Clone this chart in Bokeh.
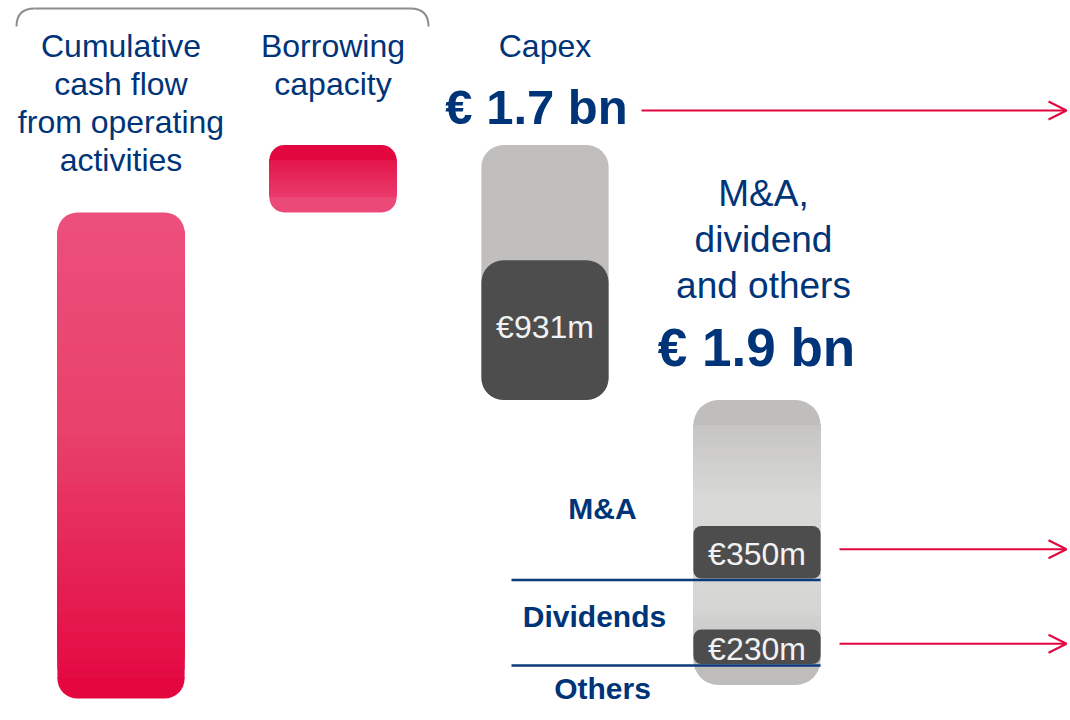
from bokeh.plotting import figure
from bokeh.models import Range1d, Arrow, OpenHead, ColumnDataSource
from bokeh.core.properties import value
from bokeh.embed import file_html
from bokeh.resources import INLINE

# ---------------- data (EUR bn) ----------------
categories = ["Cumulative cash flow from operating activities", "Borrowing capacity",
              "Capex", "M&A, dividend and others"]
cash_flow_bn = 3.24
borrowing_bn = 0.45
capex_bn = 1.7
capex_committed_bn = 0.931
uses_other_bn = 1.9
split_labels = ["M&A", "Dividends", "Others"]
split_budget_bn = [1.2, 0.57, 0.13]
split_committed_bn = [0.35, 0.23, 0.0]

header_lines = [["Cumulative", "cash flow", "from operating", "activities"],
                ["Borrowing", "capacity"],
                ["Capex"],
                ["M&A,", "dividend", "and others"]]

# ---------------- styles ----------------
NAVY = "#003478"
RED = "#E2063F"
DARK = "#4D4D4D"
LIGHT = "#C0BFBE"
FONT = value("Liberation Sans")
PX_PER_BN = 150.0
PX_PER_X = 212.0
W, H = 1070, 720
BAR_W = 0.6

p = figure(width=W, height=H, output_backend="svg", toolbar_location=None,
           x_axis_location=None, y_axis_location=None, min_border=0,
           x_range=Range1d(-120.5 / PX_PER_X, (W - 120.5) / PX_PER_X),
           y_range=Range1d(-(H - 698) / PX_PER_BN, 698 / PX_PER_BN))
p.grid.visible = False
p.outline_line_color = None
p.background_fill_color = "white"


def fy(page_y):
    # layout helper for annotation text: pixel row -> y units
    return (698 - page_y) / PX_PER_BN


def fx(page_x):
    return (page_x - 120.5) / PX_PER_X


def hex2rgb(h):
    h = h.lstrip("#")
    return [int(h[i:i + 2], 16) for i in (0, 2, 4)]


def color_at(stops, f):
    for (f0, c0), (f1, c1) in zip(stops[:-1], stops[1:]):
        if f0 <= f <= f1:
            t = 0 if f1 == f0 else (f - f0) / (f1 - f0)
            a, b = hex2rgb(c0), hex2rgb(c1)
            return "#%02x%02x%02x" % tuple(round(a[i] + (b[i] - a[i]) * t) for i in range(3))
    return stops[-1][1]


def gradient_bar(xc, bottom, top, stops, r, n=48):
    """stops: list of (fraction from top, colour)"""
    rd = r / PX_PER_BN
    left, right = xc - BAR_W / 2, xc + BAR_W / 2
    lo, hi = bottom + rd, top - rd
    # bottom cap, then stacked slices each reaching up to the top cap (no seams)
    p.quad(left=left, right=right, bottom=bottom, top=lo + 1 / PX_PER_BN, fill_color=stops[-1][1],
           line_color=None, border_radius=(0, 0, r, r))
    step = (hi - lo) / n
    bots = [lo + i * step for i in range(n)]
    tops = [hi + 1 / PX_PER_BN] * n
    cols = [color_at(stops, (top - (b + step / 2)) / (top - bottom)) for b in bots]
    src = ColumnDataSource(dict(b=bots, t=tops, c=cols))
    p.quad(left=left, right=right, bottom="b", top="t", fill_color="c", line_color=None, source=src)
    p.quad(left=left, right=right, bottom=hi, top=top, fill_color=stops[0][1],
           line_color=None, border_radius=(r, r, 0, 0))


def label(x, y, txt, size, color=NAVY, bold=False):
    p.text(x=x, y=y, text=txt, text_color=color, text_font=FONT,
           text_font_style="bold" if bold else "normal", text_font_size=size,
           text_align="center", text_baseline="middle")


xs = list(range(len(categories)))

# waterfall positions
total_sources = cash_flow_bn + borrowing_bn
capex_bottom = total_sources - capex_bn
uses_top = capex_bottom
uses_bottom = uses_top - uses_other_bn

# 1) cumulative cash flow
gradient_bar(xs[0], 0, cash_flow_bn, [(0, "#EC4F7C"), (0.45, "#E8416B"), (1, "#E3063F")], 20)
# 2) borrowing capacity
gradient_bar(xs[1], cash_flow_bn, total_sources, [(0, "#E2083F"), (1, "#EB4A79")], 15)
# 3) capex
p.quad(left=xs[2] - BAR_W / 2, right=xs[2] + BAR_W / 2, bottom=capex_bottom, top=total_sources,
       fill_color=LIGHT, line_color=None, border_radius=22)
p.quad(left=xs[2] - BAR_W / 2, right=xs[2] + BAR_W / 2, bottom=capex_bottom,
       top=capex_bottom + capex_committed_bn, fill_color=DARK, line_color=None, border_radius=22)
label([xs[2]], [capex_bottom + capex_committed_bn / 2 + 3 / PX_PER_BN],
      ["€%dm" % round(capex_committed_bn * 1000)], "32px", color="#F2F2F2")
# 4) M&A, dividend, others
gradient_bar(xs[3], uses_bottom, uses_top,
             [(0, "#BFBEBC"), (0.35, "#D9D9D8"), (0.72, "#D6D6D5"), (0.85, "#C9C8C7"), (1, "#BEBDBB")], 25)

# split segments, committed boxes, separators
seg_top = uses_top
label_x = [fx(602), fx(594), fx(602)]
label_y = [508, 616, 688]
for i, (lab, bud, com) in enumerate(zip(split_labels, split_budget_bn, split_committed_bn)):
    seg_bottom = seg_top - bud
    if com > 0:
        b0 = seg_bottom + 0.01
        p.quad(left=xs[3] - BAR_W / 2, right=xs[3] + BAR_W / 2, bottom=b0, top=b0 + com,
               fill_color=DARK, line_color=None, border_radius=8)
        yc = b0 + com / 2
        label([xs[3]], [yc - 2 / PX_PER_BN], ["€%dm" % round(com * 1000)], "32px", color="#F2F2F2")
        p.add_layout(Arrow(end=OpenHead(size=18, line_color=RED, line_width=2),
                           x_start=fx(839), y_start=yc + 3 / PX_PER_BN,
                           x_end=fx(1066), y_end=yc + 3 / PX_PER_BN,
                           line_color=RED, line_width=2))
    if i < len(split_labels) - 1:
        p.segment(x0=[fx(511)], y0=[seg_bottom], x1=[xs[3] + BAR_W / 2], y1=[seg_bottom],
                  line_color="#0D3A78", line_width=2.5)
    label([label_x[i]], [fy(label_y[i])], [lab], "30px", bold=True)
    seg_top = seg_bottom

# headers
hdr_x = [xs[0], xs[1], xs[2], fx(763)]
hdr_first = [45, 45, 45, 193]
hdr_step = [38.3, 38.3, 38.3, 46]
hdr_size = ["32px", "32px", "32px", "37px"]
for k in range(len(categories)):
    lines = header_lines[k]
    label([hdr_x[k]] * len(lines), [fy(hdr_first[k] + j * hdr_step[k]) for j in range(len(lines))],
          lines, hdr_size[k])

# headline totals
label([fx(536)], [fy(106)], ["€ %.1f bn" % capex_bn], "49px", bold=True)
label([fx(756)], [fy(347)], ["€ %.1f bn" % uses_other_bn], "53px", bold=True)
p.add_layout(Arrow(end=OpenHead(size=18, line_color=RED, line_width=2),
                   x_start=fx(641), y_start=fy(110), x_end=fx(1066), y_end=fy(110),
                   line_color=RED, line_width=2))

# bracket over the sources
BR = "#8C8C8C"
p.segment(x0=[fx(34)], y0=[fy(8)], x1=[fx(410)], y1=[fy(8)], line_color=BR, line_width=2)
p.quadratic(x0=[fx(16)], y0=[fy(26)], x1=[fx(34)], y1=[fy(8)], cx=[fx(16)], cy=[fy(8)],
            line_color=BR, line_width=2)
p.quadratic(x0=[fx(410)], y0=[fy(8)], x1=[fx(428)], y1=[fy(26)], cx=[fx(428)], cy=[fy(8)],
            line_color=BR, line_width=2)

open("out.html", "w").write(file_html(p, INLINE))
